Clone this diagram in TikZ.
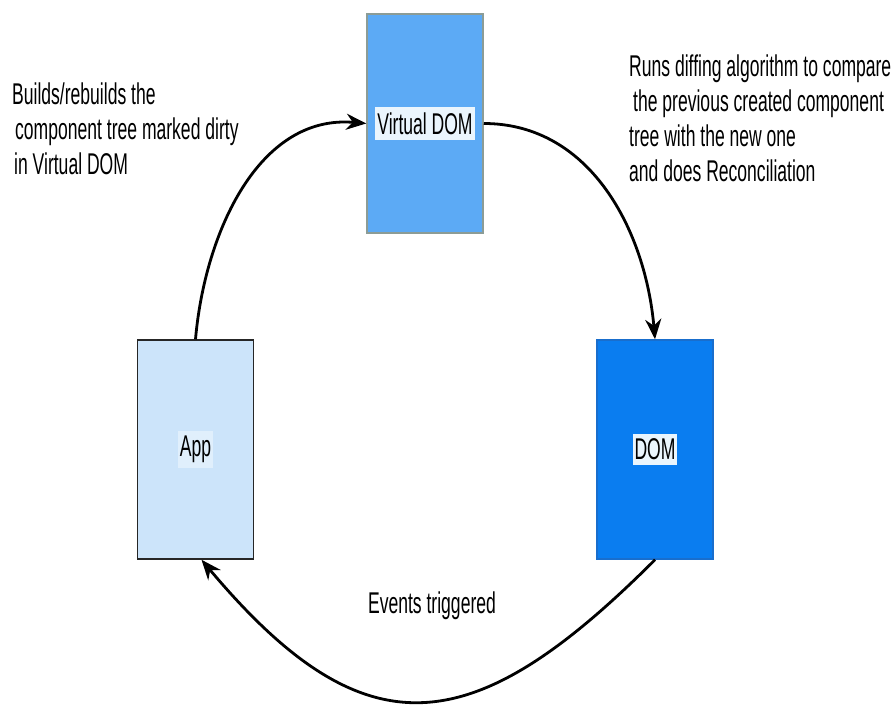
\documentclass[tikz,border=0pt]{standalone}
\usepackage{fontspec}
\setmainfont[FakeStretch=0.585]{Liberation Sans}
\usetikzlibrary{arrows.meta}

\definecolor{vdomfill}{RGB}{92,170,245}
\definecolor{vdomedge}{RGB}{140,156,150}
\definecolor{appfill}{RGB}{204,228,250}
\definecolor{domfill}{RGB}{10,125,240}
\definecolor{domedge}{RGB}{25,110,205}
\definecolor{tagfill}{RGB}{234,245,253}

\tikzset{
	box/.style={draw, line width=1.5pt, minimum width=116pt, minimum height=219pt, inner sep=0pt},
	tag/.style={fill=#1, inner xsep=2pt, inner ysep=5pt},
	note/.style={align=left, anchor=north west, inner sep=0pt},
	flow/.style={line width=2.8pt, -{Stealth[length=20pt,width=16pt]}}
}

\begin{document}
\begin{tikzpicture}[x=1pt, y=1pt, font=\fontsize{30}{35}\selectfont]
		%%%%% START %%%%%
		\useasboundingbox (0, 0) rectangle (892, 709);
		
		\node[box, draw=vdomedge, fill=vdomfill] (vdom) at (425, 585.5) {};
		\node[tag=tagfill] (vdomtag) at (vdom.center) {Virtual DOM};
		
		\node[box, draw=black!85, fill=appfill] (app) at (195.5, 259.5) {};
		\node[tag=appfill!60!white] (apptag) at (app.center) {App};
		
		\node[box, draw=domedge, fill=domfill] (dom) at (655, 259.5) {};
		\node[tag=tagfill] (domtag) at (dom.center) {DOM};
		
		\node[note] (buildtxt) at (12, 626) {Builds/rebuilds the\\\hspace{3pt}component tree marked dirty\\\hspace{2pt}in Virtual DOM};
		\node[note] (difftxt) at (629, 654) {Runs diffing algorithm to compare\\\hspace{4pt}the previous created component\\tree with the new one\\and does Reconciliation};
		\node (eventtxt) at (432, 103) {Events triggered};
		
		\draw[flow] (app.north) to[out=85, in=175] (vdom.west);
		\draw[flow] (vdom.east) to[out=0, in=95] (dom.north);
		\draw[flow] (dom.south) to[out=225, in=-50, looseness=1.45] ([xshift=6pt]app.south);
		
		%%%%% END %%%%%
\end{tikzpicture}
\end{document}
